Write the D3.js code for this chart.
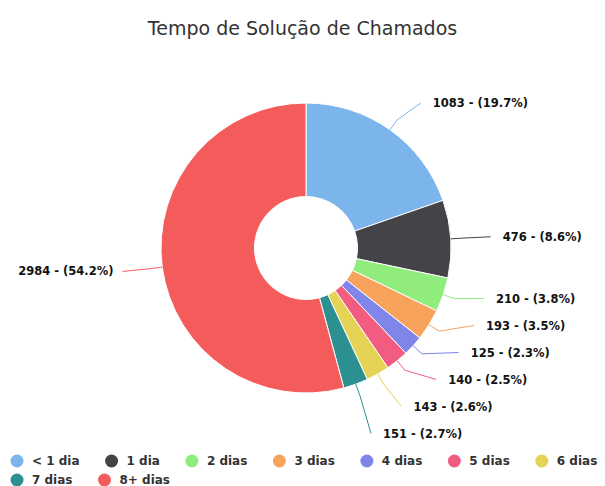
<!DOCTYPE html>
<html>
<head>
<meta charset="utf-8">
<script src="https://cdn.jsdelivr.net/npm/d3@7"></script>
<style>
  body { margin: 0; background: #fff; }
</style>
</head>
<body>
<div id="chart"></div>
<script>
// data
const categories = ["< 1 dia", "1 dia", "2 dias", "3 dias", "4 dias", "5 dias", "6 dias", "7 dias", "8+ dias"];
const values = [1083, 476, 210, 193, 125, 140, 143, 151, 2984];
const colors = ["#7cb5ec", "#434348", "#90ed7d", "#f7a35c", "#8085e9", "#f15c80", "#e4d354", "#2b908f", "#f45b5b"];
const chartTitle = "Tempo de Solução de Chamados";

// dimensions
const width = 605, height = 486;
const cx = 306, cy = 248;
const outerR = 145, innerR = 51.5;
const labelR = 178;      // natural label position
const connR = 185;       // where connectors end
const boxH = 27;         // vertical room per label
const plotTop = 60, plotBottom = 447;

const total = d3.sum(values);
const items = categories.map((c, i) => ({name: c, value: values[i], color: colors[i]}));

const svg = d3.select("#chart")
  .append("svg")
    .attr("width", width)
    .attr("height", height)
    .style("font-family", "'DejaVu Sans', sans-serif");

// title
svg.append("text")
  .attr("x", width / 2)
  .attr("y", 35)
  .attr("text-anchor", "middle")
  .style("font-size", "19px")
  .style("fill", "#333")
  .text(chartTitle);

// pie
const pie = d3.pie().sort(null).value(d => d.value);
const arcs = pie(items);

const arc = d3.arc().innerRadius(innerR).outerRadius(outerR);

const g = svg.append("g")
  .attr("transform", `translate(${cx}, ${cy})`);

g.selectAll("path.slice")
  .data(arcs)
  .join("path")
    .attr("class", "slice")
    .attr("d", arc)
    .attr("fill", d => d.data.color)
    .attr("stroke", "#fff")
    .attr("stroke-width", 1);

// labels - place and spread them so they don't overlap
arcs.forEach(d => {
  d.mid = (d.startAngle + d.endAngle) / 2;
  d.side = Math.sin(d.mid) >= 0 ? 1 : -1;
  d.target = cy - labelR * Math.cos(d.mid);
});

function distribute(list) {
  list.sort((a, b) => a.target - b.target);
  let clusters = list.map(d => ({items: [d], mean: d.target}));
  const place = c => {
    let start = c.mean - (c.items.length - 1) * boxH / 2;
    start = Math.max(start, plotTop + boxH / 2);
    start = Math.min(start, plotBottom - boxH / 2 - (c.items.length - 1) * boxH);
    c.start = start;
    c.end = start + (c.items.length - 1) * boxH;
  };
  clusters.forEach(place);
  let merged = true;
  while (merged) {
    merged = false;
    for (let i = 0; i < clusters.length - 1; i++) {
      const a = clusters[i], b = clusters[i + 1];
      if (b.start - a.end < boxH) {
        const all = a.items.concat(b.items);
        const c = {items: all, mean: d3.mean(all, d => d.target)};
        place(c);
        clusters.splice(i, 2, c);
        merged = true;
        break;
      }
    }
  }
  clusters.forEach(c => c.items.forEach((d, j) => { d.ly = c.start + j * boxH; }));
}

distribute(arcs.filter(d => d.side > 0));
distribute(arcs.filter(d => d.side < 0));

arcs.forEach(d => {
  const dy = d.ly - cy;
  const dx = Math.max(Math.sqrt(Math.max(connR * connR - dy * dy, 0)), 65);
  d.lx = cx + d.side * dx;
});

const pt = (a, r) => [cx + r * Math.sin(a), cy - r * Math.cos(a)];

svg.append("g").selectAll("path")
  .data(arcs)
  .join("path")
    .attr("d", d => d3.line()([pt(d.mid, outerR), pt(d.mid, outerR + 12), [d.lx, d.ly]]))
    .attr("fill", "none")
    .attr("stroke", d => d.data.color)
    .attr("stroke-width", 1);

svg.append("g").selectAll("text")
  .data(arcs)
  .join("text")
    .attr("x", d => d.lx + (d.side > 0 ? 12 : -9))
    .attr("y", d => d.ly)
    .attr("dy", "0.35em")
    .attr("text-anchor", d => d.side > 0 ? "start" : "end")
    .style("font-size", "11.5px")
    .style("font-weight", "bold")
    .style("fill", "#111")
    .text(d => d.data.value + " - (" + (d.data.value / total * 100).toFixed(1) + "%)");

// legend
const legend = svg.append("g");
let lx = 17, row = 0;
const rowY = [461, 480];
items.forEach(d => {
  const item = legend.append("g");
  const t = item.append("text")
    .attr("y", 0)
    .attr("dy", "0.35em")
    .style("font-size", "12px")
    .style("font-weight", "bold")
    .style("fill", "#333")
    .text(d.name);
  const w = t.node().getComputedTextLength();
  if (lx + 15 + w > width) { lx = 17; row++; }
  t.attr("x", 15);
  item.append("circle")
    .attr("r", 6.5)
    .attr("fill", d.color);
  item.attr("transform", `translate(${lx}, ${rowY[row]})`);
  lx += 15 + w + 32;
});
</script>
</body>
</html>
